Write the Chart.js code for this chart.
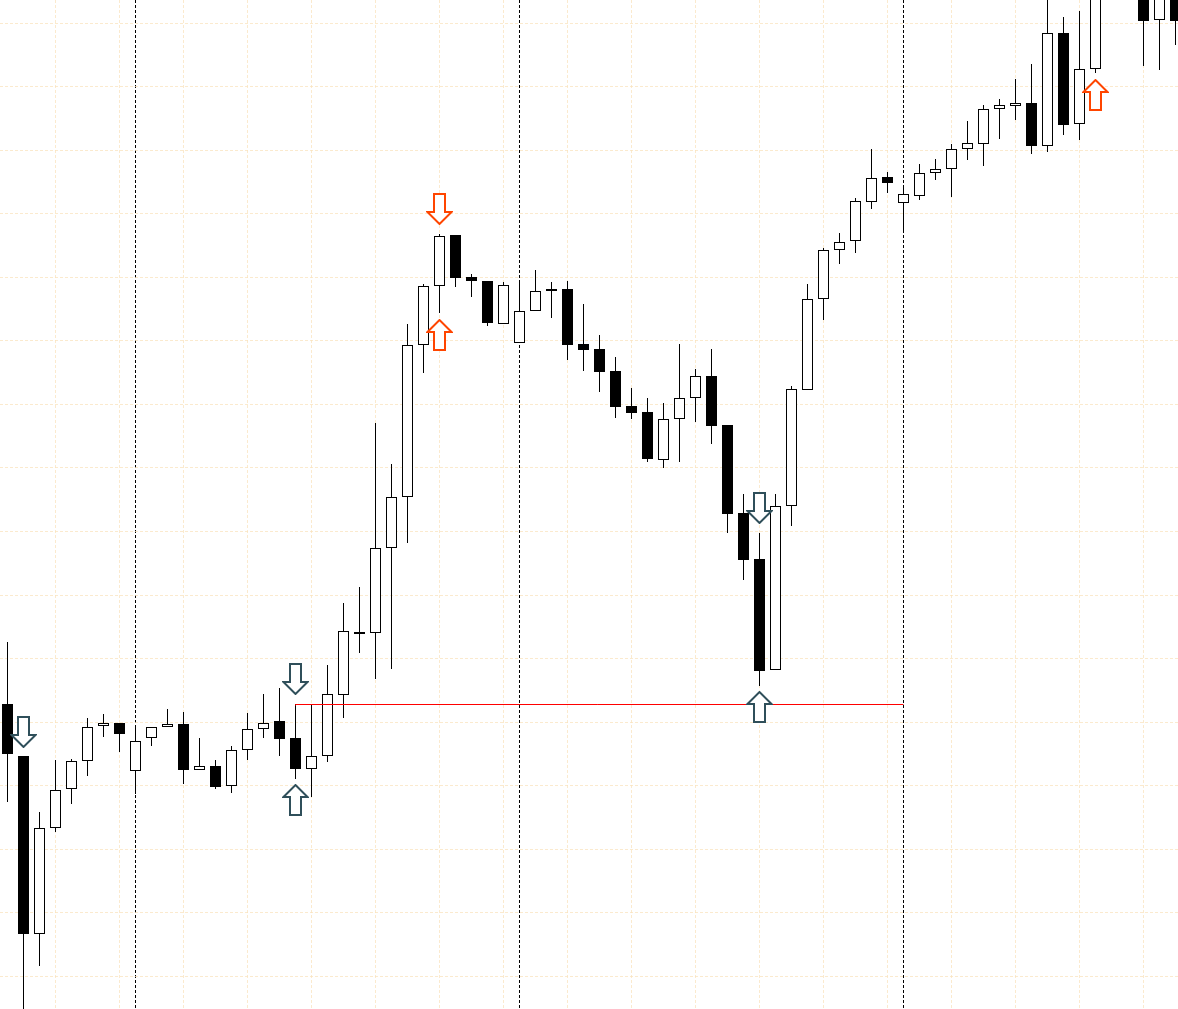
<!DOCTYPE html>
<html>
<head>
<meta charset="utf-8">
<script src="https://cdn.jsdelivr.net/npm/chart.js@4.4.0/dist/chart.umd.min.js"></script>
<style>
html, body { margin: 0; padding: 0; background: #fff; overflow: hidden; }
#wrap { width: 1178px; height: 1009px; position: relative; }
</style>
</head>
<body>
<div id="wrap"><canvas id="chart"></canvas></div>
<script>
// candle prices, one entry per bar (price in points)
const opens  = [305, 253,  75, 181, 220, 248, 283, 286, 238, 271, 282, 285, 239, 243, 223, 259, 280, 288, 271, 240,
                253, 314, 377, 376, 461, 512, 664, 723, 774, 732, 728, 685, 666, 698, 720, 720, 665, 660, 638, 603,
                597, 549, 590, 611, 633, 584, 496, 450, 339, 503, 619, 710, 759, 768, 807, 832, 806, 813, 836, 840,
                860, 865, 900, 903, 906, 863, 976, 885, 940, 1028, 1055, 1035, 989, 1032];
const highs  = [367, 253, 197, 249, 250, 291, 295, 286, 283, 282, 300, 297, 271, 249, 263, 296, 315, 321, 305, 305,
                344, 406, 422, 586, 545, 685, 725, 775, 774, 735, 728, 727, 727, 739, 727, 728, 705, 674, 652, 621,
                611, 606, 665, 640, 660, 584, 515, 476, 515, 623, 725, 761, 776, 811, 860, 837, 823, 845, 850, 865,
                888, 904, 910, 930, 945, 1020, 992, 998, 1045, 1070, 1080, 1050, 1045, 1048];
const lows   = [207,  -3,  43, 177, 205, 233, 272, 257, 215, 263, 282, 225, 239, 220, 216, 249, 271, 253, 230, 212,
                247, 291, 356, 330, 340, 466, 636, 696, 722, 712, 683, 685, 666, 698, 691, 649, 638, 617, 591, 590,
                547, 541, 547, 587, 565, 476, 429, 323, 339, 483, 619, 689, 745, 756, 800, 816, 779, 809, 829, 812,
                849, 843, 870, 889, 855, 857, 874, 869, 936, 1015, 1022, 943, 939, 964];
const closes = [255,  75, 181, 219, 248, 282, 286, 275, 268, 282, 285, 239, 243, 222, 259, 280, 286, 270, 240, 253,
                315, 378, 375, 461, 512, 664, 723, 773, 731, 728, 686, 724, 698, 718, 718, 664, 659, 637, 602, 596,
                550, 590, 611, 633, 583, 495, 449, 338, 503, 620, 710, 759, 767, 808, 831, 826, 815, 836, 840, 860,
                866, 900, 904, 906, 863, 976, 884, 940, 1030, 1055, 1040, 988, 1030, 988];

// signal arrows: bar index and price at the arrow centre
const darkDownBars = [1, 18, 47];
const darkDownPrices = [277, 330, 501];
const darkUpBars = [18, 47];
const darkUpPrices = [209, 302];
const redDownBars = [27];
const redDownPrices = [800];
const redUpBars = [27, 68];
const redUpPrices = [674, 914];

// red level line
const levelBars = [18, 36.9, 56];
const levelPrices = [303.5, 304.5, 304.5];

// grid and period separators
const gridBars = [3, 7, 11, 15, 19, 23, 27, 31, 35, 39, 43, 47, 51, 55, 59, 63, 67, 71];
const gridPrices = [32.7, 96.2, 159.8, 223.3, 286.9, 350.4, 413.9, 477.5, 541.0, 604.5, 668.1, 731.6, 795.1, 858.6, 922.2, 985.7];
const sessionBars = [8, 32, 56];

const bars = opens.map((_, i) => i);
const xMin = -0.46875, xMax = 73.15625;
const gridColor = 'rgba(250, 225, 185, 0.7)';

function makeArrow(color, up) {
    const c = document.createElement('canvas');
    c.width = 27;
    c.height = 32;
    const g = c.getContext('2d');
    if (up) { g.translate(0, 32); g.scale(1, -1); }
    g.beginPath();
    g.moveTo(8, 1);
    g.lineTo(19, 1);
    g.lineTo(19, 19);
    g.lineTo(25.5, 19);
    g.lineTo(13.5, 31);
    g.lineTo(1.5, 19);
    g.lineTo(8, 19);
    g.closePath();
    g.fillStyle = '#fff';
    g.fill();
    g.lineWidth = 2;
    g.lineJoin = 'miter';
    g.strokeStyle = color;
    g.stroke();
    return c;
}

function arrowSet(xs, ys, img) {
    return {
        type: 'line',
        data: xs.map((x, i) => ({ x: x, y: ys[i] })),
        showLine: false,
        pointStyle: img,
        order: 0
    };
}

const darkColor = '#2f4f5a';
const redColor = '#ff4500';

new Chart(document.getElementById('chart'), {
    type: 'bar',
    data: {
        datasets: [
            arrowSet(darkDownBars, darkDownPrices, makeArrow(darkColor, false)),
            arrowSet(darkUpBars, darkUpPrices, makeArrow(darkColor, true)),
            arrowSet(redDownBars, redDownPrices, makeArrow(redColor, false)),
            arrowSet(redUpBars, redUpPrices, makeArrow(redColor, true)),
            {
                type: 'line',
                data: levelBars.map((x, i) => ({ x: x, y: levelPrices[i] })),
                borderColor: '#ff0000',
                borderWidth: 1,
                pointRadius: 0,
                stepped: 'after',
                order: 1
            },
            {
                data: bars.map(i => ({ x: i, y: [opens[i], closes[i]] })),
                backgroundColor: bars.map(i => closes[i] >= opens[i] ? '#ffffff' : '#000000'),
                borderColor: '#000000',
                borderWidth: 1,
                borderSkipped: false,
                barThickness: 11,
                grouped: false,
                inflateAmount: 0,
                order: 2
            },
            {
                data: bars.map(i => ({ x: i, y: [lows[i], highs[i]] })),
                backgroundColor: '#000000',
                borderWidth: 0,
                barThickness: 1,
                grouped: false,
                inflateAmount: 0,
                order: 3
            }
        ]
    },
    options: {
        responsive: true,
        maintainAspectRatio: false,
        animation: false,
        layout: { padding: 0, autoPadding: false },
        plugins: { legend: { display: false }, tooltip: { enabled: false } },
        scales: {
            x: {
                type: 'linear', min: xMin, max: xMax, bounds: 'data', offset: false,
                ticks: { display: false },
                afterBuildTicks: s => { s.ticks = gridBars.map(v => ({ value: v })); },
                grid: { color: gridColor, lineWidth: 1, drawTicks: false, offset: false },
                border: { display: false, dash: [3, 2] }
            },
            sep: {
                type: 'linear', axis: 'x', position: 'bottom', min: xMin, max: xMax, bounds: 'data', offset: false,
                ticks: { display: false },
                afterBuildTicks: s => { s.ticks = sessionBars.map(v => ({ value: v })); },
                grid: { color: '#000000', lineWidth: 1, drawTicks: false, offset: false },
                border: { display: false, dash: [3, 2] }
            },
            y: {
                type: 'linear', min: 0, max: 1009, bounds: 'data',
                ticks: { display: false },
                afterBuildTicks: s => { s.ticks = gridPrices.map(v => ({ value: v })); },
                grid: { color: gridColor, lineWidth: 1, drawTicks: false },
                border: { display: false, dash: [3, 2] }
            }
        }
    }
});
</script>
</body>
</html>
